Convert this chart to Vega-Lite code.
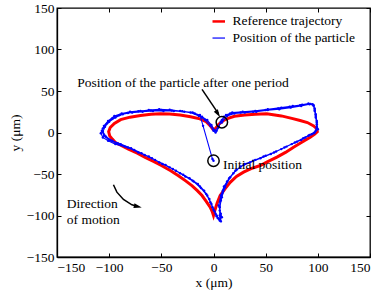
{
  "$schema": "https://vega.github.io/schema/vega-lite/v6.json",
  "width": 313,
  "height": 249,
  "autosize": {"type": "none"},
  "padding": {"left": 57, "top": 8, "right": 10, "bottom": 38},
  "background": "white",
  "config": {
    "view": {"stroke": "black", "strokeWidth": 1.3},
    "font": "Liberation Serif",
    "axis": {
      "labelFont": "Liberation Serif", "labelFontSize": 13.5, "labelColor": "black",
      "titleFont": "Liberation Serif", "titleFontSize": 13.5, "titleFontWeight": "normal", "titleColor": "black",
      "domainColor": "black", "domainWidth": 1.3, "tickColor": "black", "tickSize": -4, "grid": false, "labelPadding": 7
    },
    "legend": {"symbolType": "M-1.25,0L1.25,0", "symbolStrokeWidth": 2, "rowPadding": 1.6, "labelFont": "Liberation Serif", "labelFontSize": 13.5, "labelOffset": 7, "padding": 0, "labelColor": "black", "titleFontSize": 0},
    "text": {"font": "Liberation Serif", "fontSize": 13.5, "color": "black"}
  },
  "resolve": {"axis": {"x": "independent", "y": "independent"}},
  "layer": [
    {
      "data": {"values": [
        {"x":0,"y":3},{"x":-3,"y":8},{"x":-7,"y":13},{"x":-13,"y":16.5},{"x":-22,"y":19},{"x":-32,"y":21},{"x":-42,"y":22.3},{"x":-51,"y":22.5},{"x":-60,"y":22},{"x":-70,"y":20.5},{"x":-80,"y":18.5},{"x":-89,"y":15.5},{"x":-95,"y":11},{"x":-99,"y":6},{"x":-100.5,"y":1},{"x":-99.5,"y":-4},{"x":-97,"y":-8},{"x":-94,"y":-12},{"x":-88,"y":-16},{"x":-81.5,"y":-20},{"x":-73,"y":-25},{"x":-65.5,"y":-30},{"x":-57,"y":-35},{"x":-49.5,"y":-40},{"x":-41,"y":-46},{"x":-33.6,"y":-52},{"x":-27,"y":-58},{"x":-20.7,"y":-64},{"x":-15.5,"y":-70},{"x":-11,"y":-76},{"x":-7,"y":-83},{"x":-3.2,"y":-90},{"x":-1,"y":-96},{"x":0,"y":-100},{"x":1.5,"y":-93},{"x":3.5,"y":-85},{"x":6.4,"y":-76},{"x":11,"y":-68},{"x":16,"y":-60},{"x":22,"y":-53},{"x":28.8,"y":-47.8},{"x":36,"y":-43.5},{"x":44.8,"y":-39.8},{"x":52,"y":-35},{"x":60.8,"y":-29.7},{"x":69,"y":-24},{"x":76.7,"y":-17.7},{"x":85,"y":-11.5},{"x":92.7,"y":-5.7},{"x":97,"y":-2},{"x":99.5,"y":1},{"x":99,"y":4.5},{"x":96,"y":8},{"x":90,"y":12},{"x":83,"y":14.5},{"x":75,"y":17},{"x":65,"y":20},{"x":51,"y":22.5},{"x":40,"y":22},{"x":30,"y":21},{"x":20,"y":19.5},{"x":14,"y":17},{"x":9.6,"y":14.5},{"x":5,"y":10},{"x":2,"y":5},{"x":0,"y":3}
      ]},
      "mark": {"type": "line", "strokeWidth": 3},
      "encoding": {
        "x": {"field": "x", "type": "quantitative", "scale": {"domain": [-150, 150], "nice": false}, "axis": {"orient": "bottom", "title": "x (μm)", "values": [-150,-100,-50,0,50,100,150], "titlePadding": 2}},
        "y": {"field": "y", "type": "quantitative", "scale": {"domain": [-150, 150], "nice": false}, "axis": {"orient": "left", "title": "y (μm)", "values": [-150,-100,-50,0,50,100,150], "titlePadding": 4}},
        "order": {"value": null},
        "color": {"datum": "Reference trajectory", "type": "nominal",
          "scale": {"domain": ["Reference trajectory", "Position of the particle"], "range": ["#ff0000", "#0000ff"]},
          "legend": {"orient": "none", "legendX": 155, "legendY": 6.7, "title": null,
            "encode": {"symbols": {"update": {"strokeWidth": {"signal": "datum.value === 'Reference trajectory' ? 2.5 : 1.2"}}}}}
        }
      }
    },
    {
      "data": {"values": [
        {"x":0,"y":-34},{"x":-1,"y":-32},{"x":-10,"y":8},{"x":-13,"y":21},
        {"x":-20,"y":24},{"x":-30,"y":25.5},{"x":-40,"y":26.5},{"x":-50,"y":27},{"x":-60,"y":26.5},{"x":-70,"y":26},{"x":-80,"y":25},{"x":-88,"y":23},{"x":-95,"y":20},{"x":-101,"y":14},{"x":-105,"y":8},{"x":-107,"y":2},{"x":-105,"y":-4},{"x":-100,"y":-9},{"x":-92,"y":-13},{"x":-82,"y":-18},{"x":-72,"y":-24},{"x":-62,"y":-29},{"x":-52,"y":-36},{"x":-42,"y":-42},{"x":-32,"y":-49},{"x":-23,"y":-55},{"x":-15,"y":-62},{"x":-9,"y":-70},{"x":-4,"y":-80},{"x":-1,"y":-90},{"x":2,"y":-98},{"x":4,"y":-103},{"x":6,"y":-106},{"x":6,"y":-100},{"x":6,"y":-90},{"x":8,"y":-78},{"x":11,"y":-66},{"x":16,"y":-54},{"x":22,"y":-45},{"x":30,"y":-38},{"x":40,"y":-33},{"x":50,"y":-28},{"x":60,"y":-23},{"x":70,"y":-17},{"x":80,"y":-11},{"x":88,"y":-6},{"x":94,"y":-2},{"x":98,"y":2},{"x":99,"y":10},{"x":98,"y":18},{"x":97,"y":26},{"x":96,"y":32},{"x":93,"y":34.5},{"x":85,"y":33.5},{"x":76,"y":32},{"x":65,"y":30},{"x":52,"y":28},{"x":40,"y":26},{"x":28,"y":25},{"x":18,"y":24},{"x":12,"y":21},{"x":8,"y":15},{"x":5,"y":7},{"x":3,"y":2},{"x":1,"y":3},{"x":-2,"y":9},{"x":-6,"y":15},{"x":-11,"y":19},
        {"x":-18,"y":23},{"x":-28,"y":25},{"x":-38,"y":26},{"x":-48,"y":26},{"x":-58,"y":26},{"x":-68,"y":25},{"x":-78,"y":24},{"x":-87,"y":22},{"x":-94,"y":18},{"x":-100,"y":13},{"x":-104,"y":7},{"x":-106,"y":1},{"x":-103,"y":-5},{"x":-97,"y":-10},{"x":-89,"y":-14},{"x":-79,"y":-19},{"x":-69,"y":-25},{"x":-59,"y":-31},{"x":-49,"y":-38},{"x":-39,"y":-44},{"x":-29,"y":-51},{"x":-20,"y":-58},{"x":-13,"y":-65},{"x":-7,"y":-74},{"x":-3,"y":-84},{"x":0,"y":-93},{"x":3,"y":-100},{"x":5,"y":-104},{"x":7,"y":-107},{"x":7,"y":-98},{"x":5,"y":-88},{"x":7,"y":-76},{"x":10,"y":-65},{"x":15,"y":-55},{"x":21,"y":-46},{"x":29,"y":-39},{"x":38,"y":-34},{"x":48,"y":-29},{"x":58,"y":-24},{"x":68,"y":-18},{"x":78,"y":-12},{"x":86,"y":-7},{"x":92,"y":-3},{"x":97,"y":0},{"x":99,"y":6},{"x":99,"y":14},{"x":98,"y":22},{"x":97,"y":29},{"x":95,"y":34},{"x":91,"y":35},{"x":83,"y":33},{"x":73,"y":31},{"x":62,"y":29},{"x":50,"y":27},{"x":38,"y":25},{"x":26,"y":24},{"x":16,"y":23},{"x":10,"y":19},{"x":7,"y":13},{"x":4,"y":5},{"x":2,"y":0},{"x":0,"y":2},{"x":-3,"y":8},{"x":-8,"y":15},{"x":-14,"y":20},
        {"x":-22,"y":24},{"x":-32,"y":26},{"x":-42,"y":27.5},{"x":-52,"y":28},{"x":-62,"y":27},{"x":-72,"y":25.5},{"x":-82,"y":23.5},{"x":-90,"y":21},{"x":-97,"y":17},{"x":-102,"y":11},{"x":-106,"y":5},{"x":-108,"y":-1},{"x":-106,"y":-6},{"x":-101,"y":-10},{"x":-94,"y":-14},{"x":-85,"y":-17},{"x":-76,"y":-21},{"x":-66,"y":-27},{"x":-56,"y":-33},{"x":-46,"y":-39},{"x":-36,"y":-46},{"x":-27,"y":-53},{"x":-19,"y":-59},{"x":-12,"y":-67},{"x":-6,"y":-76},{"x":-2,"y":-86},{"x":1,"y":-95},{"x":3,"y":-101},{"x":6,"y":-105},{"x":8,"y":-102},{"x":6,"y":-94},{"x":7,"y":-82},{"x":9,"y":-70},{"x":13,"y":-59},{"x":19,"y":-49},{"x":26,"y":-41},{"x":35,"y":-36},{"x":45,"y":-31},{"x":55,"y":-26},{"x":65,"y":-20},{"x":75,"y":-14},{"x":84,"y":-9},{"x":91,"y":-4},{"x":96,"y":-1},{"x":100,"y":4},{"x":99,"y":12},{"x":98,"y":20},{"x":97,"y":27},{"x":96,"y":33},{"x":92,"y":34},{"x":84,"y":32},{"x":74,"y":30},{"x":63,"y":28},{"x":52,"y":27},{"x":41,"y":25},{"x":30,"y":24},{"x":20,"y":23},{"x":13,"y":20},{"x":8,"y":12}
      ]},
      "mark": {"type": "line", "strokeWidth": 1.1, "point": {"filled": true, "size": 6, "color": "#0000ff"}},
      "encoding": {
        "x": {"field": "x", "type": "quantitative", "scale": {"domain": [-150, 150], "nice": false}, "axis": null},
        "y": {"field": "y", "type": "quantitative", "scale": {"domain": [-150, 150], "nice": false}, "axis": null},
        "order": {"value": null},
        "color": {"datum": "Position of the particle", "type": "nominal"}
      }
    },
    {
      "data": {"values": [{"x": 8, "y": 12.4}, {"x": 0, "y": -34}]},
      "mark": {"type": "point", "shape": "circle", "size": 130, "stroke": "black", "strokeWidth": 1.5, "filled": false, "opacity": 1},
      "encoding": {
        "x": {"field": "x", "type": "quantitative", "axis": null},
        "y": {"field": "y", "type": "quantitative", "axis": null}
      }
    },
    {
      "data": {"values": [{"x": -11, "y": 52, "x2": 4.5, "y2": 23}]},
      "mark": {"type": "rule", "color": "black", "strokeWidth": 1.5},
      "encoding": {
        "x": {"field": "x", "type": "quantitative", "axis": null},
        "y": {"field": "y", "type": "quantitative", "axis": null},
        "x2": {"field": "x2"},
        "y2": {"field": "y2"}
      }
    },
    {
      "data": {"values": [{"x": 4.3, "y": 22.4}]},
      "mark": {"type": "point", "shape": "M0,-1L0.6,1L-0.6,1Z", "size": 64, "filled": true, "color": "black", "opacity": 1, "angle": 147},
      "encoding": {
        "x": {"field": "x", "type": "quantitative", "axis": null},
        "y": {"field": "y", "type": "quantitative", "axis": null}
      }
    },
    {
      "data": {"values": [{"x": -95.9, "y": -63}, {"x": -92.6, "y": -71.9}, {"x": -86.3, "y": -80.7}, {"x": -78.2, "y": -87.1}, {"x": -74, "y": -88.6}]},
      "mark": {"type": "line", "color": "black", "strokeWidth": 1.5},
      "encoding": {
        "x": {"field": "x", "type": "quantitative", "axis": null},
        "y": {"field": "y", "type": "quantitative", "axis": null},
        "order": {"value": null}
      }
    },
    {
      "data": {"values": [{"x": -72.5, "y": -89.2}]},
      "mark": {"type": "point", "shape": "M0,-1L0.6,1L-0.6,1Z", "size": 64, "filled": true, "color": "black", "opacity": 1, "angle": 103},
      "encoding": {
        "x": {"field": "x", "type": "quantitative", "axis": null},
        "y": {"field": "y", "type": "quantitative", "axis": null}
      }
    },
    {
      "data": {"values": [
        {"x": -130.5, "y": 60, "t": "Position of the particle after one period"},
        {"x": 9, "y": -39, "t": "Initial position"},
        {"x": -140.6, "y": -86, "t": "Direction"},
        {"x": -140.6, "y": -106, "t": "of motion"}
      ]},
      "mark": {"type": "text", "align": "left", "baseline": "middle", "font": "Liberation Serif", "fontSize": 13.5, "color": "black"},
      "encoding": {
        "x": {"field": "x", "type": "quantitative", "axis": null},
        "y": {"field": "y", "type": "quantitative", "axis": null},
        "text": {"field": "t"}
      }
    },
    {
      "data": {"values": [{"x": 0, "y": 0}]},
      "mark": {"type": "point", "opacity": 0},
      "encoding": {
        "x": {"field": "x", "type": "quantitative", "axis": {"orient": "top", "labels": false, "title": null, "domain": false, "values": [-150,-100,-50,0,50,100,150]}},
        "y": {"field": "y", "type": "quantitative", "axis": {"orient": "right", "labels": false, "title": null, "domain": false, "values": [-150,-100,-50,0,50,100,150]}}
      }
    }
  ]
}
